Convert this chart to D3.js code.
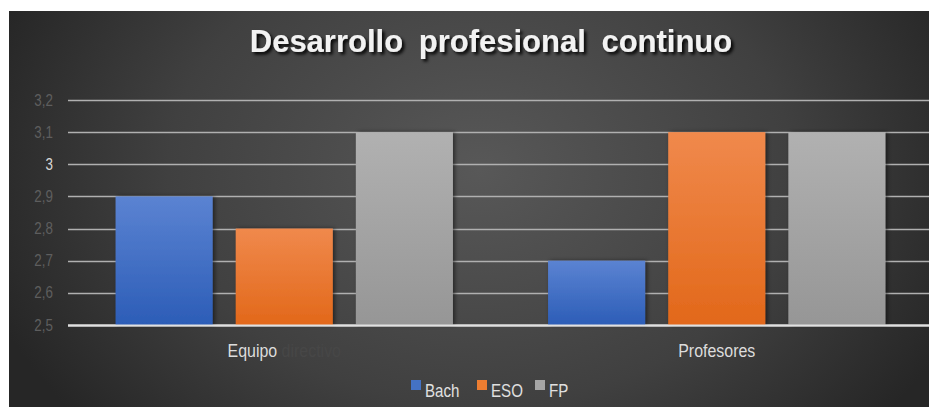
<!DOCTYPE html>
<html><head><meta charset="utf-8">
<script src="https://cdn.jsdelivr.net/npm/d3@7"></script>
<style>html,body{margin:0;padding:0;background:#fff;}svg{display:block;}</style>
</head><body>
<svg id="chart" width="929" height="407"></svg>
<script>
const categories = ["Equipo directivo", "Profesores"];
const seriesNames = ["Bach", "ESO", "FP"];
const bachValues = [2.9, 2.7];
const esoValues = [2.8, 3.1];
const fpValues = [3.1, 3.1];
const tickValues = [2.5, 2.6, 2.7, 2.8, 2.9, 3.0, 3.1, 3.2];
const tickLabels = ["2,5", "2,6", "2,7", "2,8", "2,9", "3", "3,1", "3,2"];
const title = "Desarrollo profesional continuo";

const seriesValues = [bachValues, esoValues, fpValues];
const colorsTop = ["#5b83d2", "#f0894c", "#b1b1b1"];
const colorsBot = ["#2c5db7", "#e2681a", "#969696"];
const legendColors = ["#4472c4", "#ed7d31", "#a5a5a5"];

const svg = d3.select("#chart");
const W = 929, H = 407;
const FONT = "'Liberation Sans', Arial, sans-serif";
const NARROW = 0.84;

const defs = svg.append("defs");
const bg = defs.append("radialGradient").attr("id", "bg")
  .attr("gradientUnits", "userSpaceOnUse")
  .attr("cx", 480).attr("cy", 170).attr("r", 520)
  .attr("gradientTransform", "translate(480,170) scale(1,0.75) translate(-480,-170)");
bg.append("stop").attr("offset", "0%").attr("stop-color", "#585858");
bg.append("stop").attr("offset", "60%").attr("stop-color", "#404040");
bg.append("stop").attr("offset", "100%").attr("stop-color", "#262626");

seriesNames.forEach((s, i) => {
  const g = defs.append("linearGradient").attr("id", "g" + i)
    .attr("x1", 0).attr("y1", 0).attr("x2", 0).attr("y2", 1);
  g.append("stop").attr("offset", "0%").attr("stop-color", colorsTop[i]);
  g.append("stop").attr("offset", "100%").attr("stop-color", colorsBot[i]);
});

const sh = defs.append("filter").attr("id", "tshadow").attr("x", "-10%").attr("y", "-30%").attr("width", "130%").attr("height", "170%");
sh.append("feDropShadow").attr("dx", 2.5).attr("dy", 2.5).attr("stdDeviation", 1.5).attr("flood-color", "#000").attr("flood-opacity", 0.9);
const bsh = defs.append("filter").attr("id", "bshadow").attr("x", "-20%").attr("y", "-10%").attr("width", "140%").attr("height", "120%");
bsh.append("feDropShadow").attr("dx", 2).attr("dy", 0).attr("stdDeviation", 2).attr("flood-color", "#000").attr("flood-opacity", 0.5);

svg.append("rect").attr("x", 9).attr("y", 11).attr("width", W - 9).attr("height", H - 11).attr("fill", "url(#bg)");

const x0 = d3.scaleBand().domain(categories).range([68, 933]).paddingInner(0.22).paddingOuter(0.11);
const x1 = d3.scaleBand().domain(seriesNames).range([0, x0.bandwidth()]).paddingInner(0.192);
const y = d3.scaleLinear().domain([2.5, 3.2]).range([325, 100]);

// grid
svg.append("g").selectAll("line").data(tickValues).join("line")
  .attr("x1", 68).attr("x2", W)
  .attr("y1", d => Math.round(y(d)) + 0.5).attr("y2", d => Math.round(y(d)) + 0.5)
  .attr("stroke", d => d === 2.5 ? "#e0e0e0" : "#b0b0b0")
  .attr("stroke-width", d => d === 2.5 ? 2 : 1.5);

// y labels
svg.append("g").selectAll("text").data(tickValues).join("text")
  .attr("transform", d => `translate(53,${y(d) + 5.5}) scale(${NARROW},1)`)
  .attr("text-anchor", "end")
  .attr("font-family", FONT).attr("font-size", 16)
  .attr("fill", (d, i) => tickLabels[i] === "3" ? "#d8d8d8" : "#5e5e5e")
  .text((d, i) => tickLabels[i]);

// bars
const groups = svg.append("g").selectAll("g").data(categories).join("g")
  .attr("transform", d => `translate(${x0(d)},0)`);
groups.selectAll("rect").data((c, ci) => seriesNames.map((s, si) => ({ s, si, v: seriesValues[si][ci] })))
  .join("rect")
  .attr("x", d => x1(d.s)).attr("width", x1.bandwidth())
  .attr("y", d => y(d.v)).attr("height", d => y(2.5) - y(d.v))
  .attr("fill", d => `url(#g${d.si})`)
  .attr("filter", "url(#bshadow)");

// baseline over bars
svg.append("line").attr("x1", 68).attr("x2", W).attr("y1", Math.round(y(2.5)) + 0.5).attr("y2", Math.round(y(2.5)) + 0.5)
  .attr("stroke", "#e0e0e0").attr("stroke-width", 2);

// category labels
const catText = svg.append("g").selectAll("text").data(categories).join("text")
  .attr("transform", d => `translate(${x0(d) + x0.bandwidth() / 2},357) scale(${NARROW},1)`)
  .attr("text-anchor", "middle")
  .attr("font-family", FONT).attr("font-size", 19);
catText.each(function (d) {
  const parts = d.split(" ");
  const t = d3.select(this);
  t.append("tspan").attr("fill", "#dcdcdc").text(parts[0]);
  if (parts.length > 1) t.append("tspan").attr("fill", "#474747").text(" " + parts.slice(1).join(" "));
});

// title
svg.append("text").attr("x", 491).attr("y", 52).attr("text-anchor", "middle")
  .attr("font-family", FONT).attr("font-size", 31).attr("font-weight", "bold")
  .attr("word-spacing", 7)
  .attr("fill", "#f2f2f2").attr("filter", "url(#tshadow)")
  .text(title);

// legend
const legendX = [411, 477, 535];
const lg = svg.append("g").selectAll("g").data(seriesNames).join("g")
  .attr("transform", (d, i) => `translate(${legendX[i]},380)`);
lg.append("rect").attr("width", 10).attr("height", 10).attr("fill", (d, i) => legendColors[i]);
lg.append("text").attr("transform", `translate(14,17) scale(${NARROW},1)`)
  .attr("font-family", FONT).attr("font-size", 18)
  .attr("fill", "#e0e0e0").text(d => d);
</script>
</body></html>
